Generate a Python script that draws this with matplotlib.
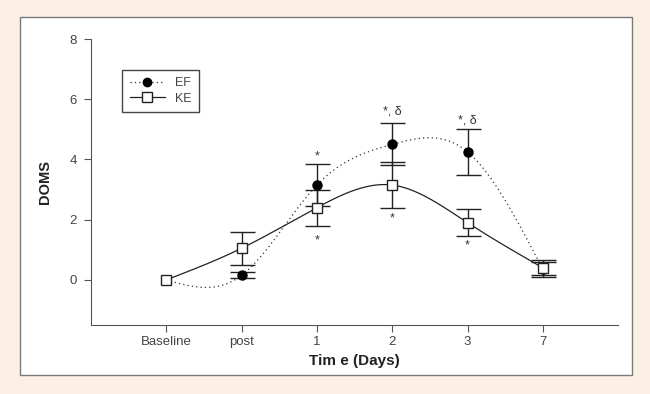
import numpy as np
import matplotlib
matplotlib.use("Agg")
from matplotlib import pyplot as plt
from matplotlib.patches import Rectangle

plt.rcParams['font.family'] = ['Liberation Sans', 'DejaVu Sans']

categorias = ["Baseline", "post", "1", "2", "3", "7"]
ef_media = [0.0, 0.15, 3.15, 4.5, 4.25, 0.35]
ef_error = [0.0, 0.1, 0.7, 0.7, 0.75, 0.25]
ke_media = [0.0, 1.05, 2.4, 3.15, 1.9, 0.4]
ke_error = [0.0, 0.55, 0.6, 0.75, 0.45, 0.25]

# anotaciones: (indice, y, texto)
marcas = [(2, 4.1, "*"), (2, 1.3, "*"), (3, 5.6, "*, \u03b4"),
          (3, 2.05, "*"), (4, 5.3, "*, \u03b4"), (4, 1.15, "*")]


def spline_natural(x, y, n=300):
  x = np.asarray(x, float)
  y = np.asarray(y, float)
  m = len(x)
  h = np.diff(x)
  A = np.zeros((m, m))
  b = np.zeros(m)
  A[0, 0] = 1
  A[-1, -1] = 1
  for i in range(1, m - 1):
    A[i, i - 1] = h[i - 1]
    A[i, i] = 2 * (h[i - 1] + h[i])
    A[i, i + 1] = h[i]
    b[i] = 6 * ((y[i + 1] - y[i]) / h[i] - (y[i] - y[i - 1]) / h[i - 1])
  M = np.linalg.solve(A, b)
  xs = np.linspace(x[0], x[-1], n)
  ys = np.zeros(n)
  for k, xv in enumerate(xs):
    i = min(np.searchsorted(x, xv, side='right') - 1, m - 2)
    t0 = x[i + 1] - xv
    t1 = xv - x[i]
    ys[k] = (M[i] * t0 ** 3 + M[i + 1] * t1 ** 3) / (6 * h[i]) \
      + (y[i] / h[i] - M[i] * h[i] / 6) * t0 \
      + (y[i + 1] / h[i] - M[i + 1] * h[i] / 6) * t1
  return xs, ys


fig = plt.figure(figsize=(6.5, 3.94), dpi=100, facecolor='#FCEFE4')
fig.patches.append(Rectangle((0.031, 0.048), 0.941, 0.909, transform=fig.transFigure,
                             facecolor='white', edgecolor='#7a7a7a', linewidth=1.0, zorder=-5))
ax = fig.add_axes([0.14, 0.175, 0.811, 0.726])
ax.set_facecolor('none')

x = np.arange(len(categorias))

xs, ys = spline_natural(x, ef_media)
ax.plot(xs, ys, color='#333333', linestyle=(0, (1, 2.5)), linewidth=0.9)
xs, ys = spline_natural(x, ke_media)
ax.plot(xs, ys, color='#222222', linestyle='-', linewidth=0.9)

ax.errorbar(x[1:], ef_media[1:], yerr=ef_error[1:], fmt='none', ecolor='#222222',
            elinewidth=1.0, capsize=9, capthick=1.0)
ax.errorbar(x[1:], ke_media[1:], yerr=ke_error[1:], fmt='none', ecolor='#222222',
            elinewidth=1.0, capsize=9, capthick=1.0)
ax.plot(x, ef_media, 'o', color='black', markersize=6.5, zorder=5)
ax.plot(x, ke_media, 's', markerfacecolor='white', markeredgecolor='#222222',
        markersize=6.5, markeredgewidth=1.0, zorder=6)

for i, yv, txt in marcas:
  ax.text(x[i], yv, txt, ha='center', va='center', fontsize=9, color='#333333')

h1, = ax.plot([], [], color='#333333', linestyle=(0, (1, 2.5)), linewidth=0.9,
              marker='o', markerfacecolor='black', markeredgecolor='black', markersize=6)
h2, = ax.plot([], [], color='#222222', linestyle='-', linewidth=0.9, marker='s',
              markerfacecolor='white', markeredgecolor='#222222', markersize=6.5)
leg = ax.legend([h1, h2], ["EF", "KE"], loc='upper left', bbox_to_anchor=(0.059, 0.892),
                borderaxespad=0, fancybox=False, framealpha=1, edgecolor='#444444',
                fontsize=9, handlelength=2.8, borderpad=0.6, labelspacing=0.25)
leg.get_frame().set_linewidth(1.0)
for t in leg.get_texts():
  t.set_color('#444444')

ax.set_xlim(-1, 6)
ax.set_ylim(-1.5, 8)
ax.set_yticks([0, 2, 4, 6, 8])
ax.set_xticks(x)
ax.set_xticklabels(categorias)
for s in ['top', 'right']:
  ax.spines[s].set_visible(False)
for s in ['left', 'bottom']:
  ax.spines[s].set_color('#555555')
ax.tick_params(direction='out', length=5, colors='#555555', labelsize=9.5,
               labelcolor='#444444')
ax.tick_params(axis='x', pad=3)
ax.tick_params(axis='y', pad=5)
ax.set_ylabel("DOMS", fontsize=10.5, fontweight='bold', color='#222222', labelpad=13)
ax.set_xlabel("Tim e (Days)", fontsize=11, fontweight='bold', color='#222222', labelpad=4)

fig.savefig("out.png", dpi=100, facecolor=fig.get_facecolor())
